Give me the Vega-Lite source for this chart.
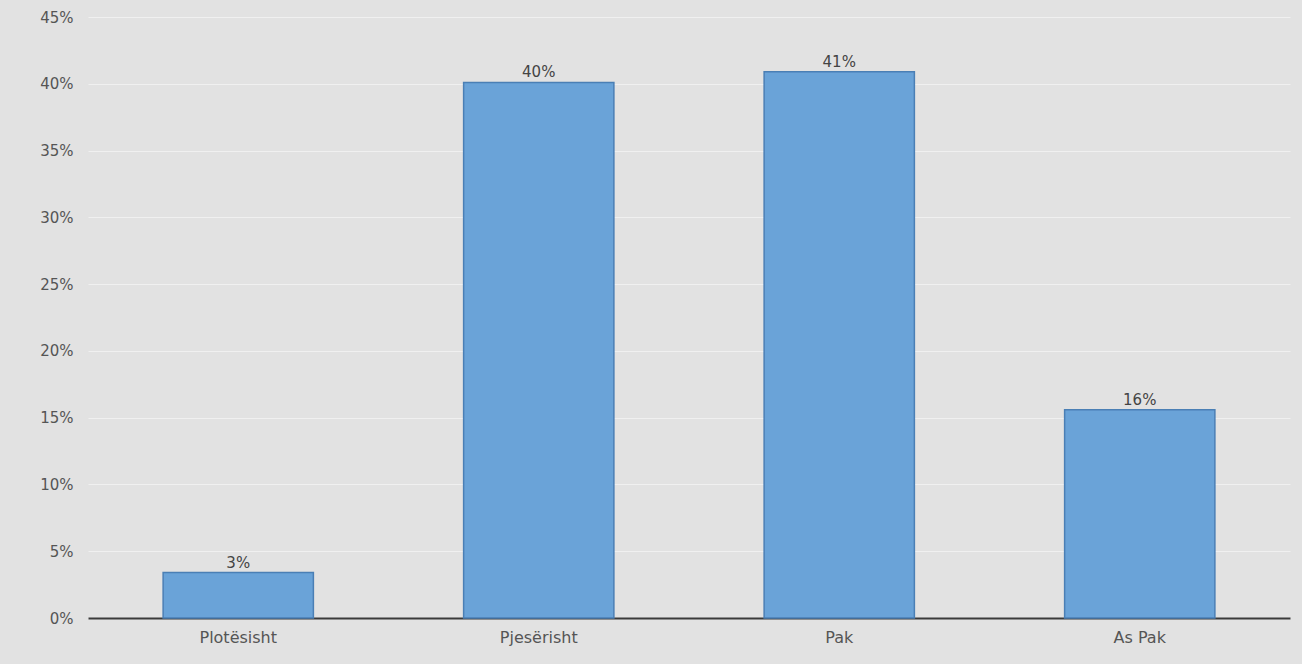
{
  "$schema": "https://vega.github.io/schema/vega-lite/v6.json",
  "autosize": "none",
  "width": 1202,
  "height": 601,
  "padding": {"left": 88, "top": 17, "right": 12, "bottom": 46},
  "background": "#e2e2e2",
  "config": {
    "view": {"stroke": null},
    "font": "DejaVu Sans"
  },
  "data": {
    "values": [
      {"category": "Plotësisht", "value": 0.034},
      {"category": "Pjesërisht", "value": 0.401},
      {"category": "Pak", "value": 0.409},
      {"category": "As Pak", "value": 0.156}
    ]
  },
  "encoding": {
    "x": {
      "field": "category",
      "type": "nominal",
      "sort": null,
      "scale": {"paddingInner": 0.5, "paddingOuter": 0.25},
      "axis": {
        "title": null,
        "labelAngle": 0,
        "labelFontSize": 16,
        "labelColor": "#555555",
        "labelPadding": 11,
        "domainColor": "#3a3a3a",
        "domainWidth": 2,
        "ticks": false
      }
    },
    "y": {
      "field": "value",
      "type": "quantitative",
      "scale": {"domain": [0, 0.45], "nice": false},
      "axis": {
        "title": null,
        "format": ".0%",
        "values": [0, 0.05, 0.1, 0.15, 0.2, 0.25, 0.3, 0.35, 0.4, 0.45],
        "labelFontSize": 15,
        "labelColor": "#555555",
        "labelPadding": 15,
        "domain": false,
        "ticks": false,
        "gridColor": "#f0f0f0",
        "gridWidth": 1
      }
    }
  },
  "layer": [
    {
      "mark": {"type": "bar", "color": "#6aa3d8", "stroke": "#4a7fb5", "strokeWidth": 1.5}
    },
    {
      "mark": {"type": "text", "baseline": "alphabetic", "dy": -5, "fontSize": 15, "color": "#444444"},
      "encoding": {
        "text": {"field": "value", "type": "quantitative", "format": ".0%"}
      }
    }
  ]
}
